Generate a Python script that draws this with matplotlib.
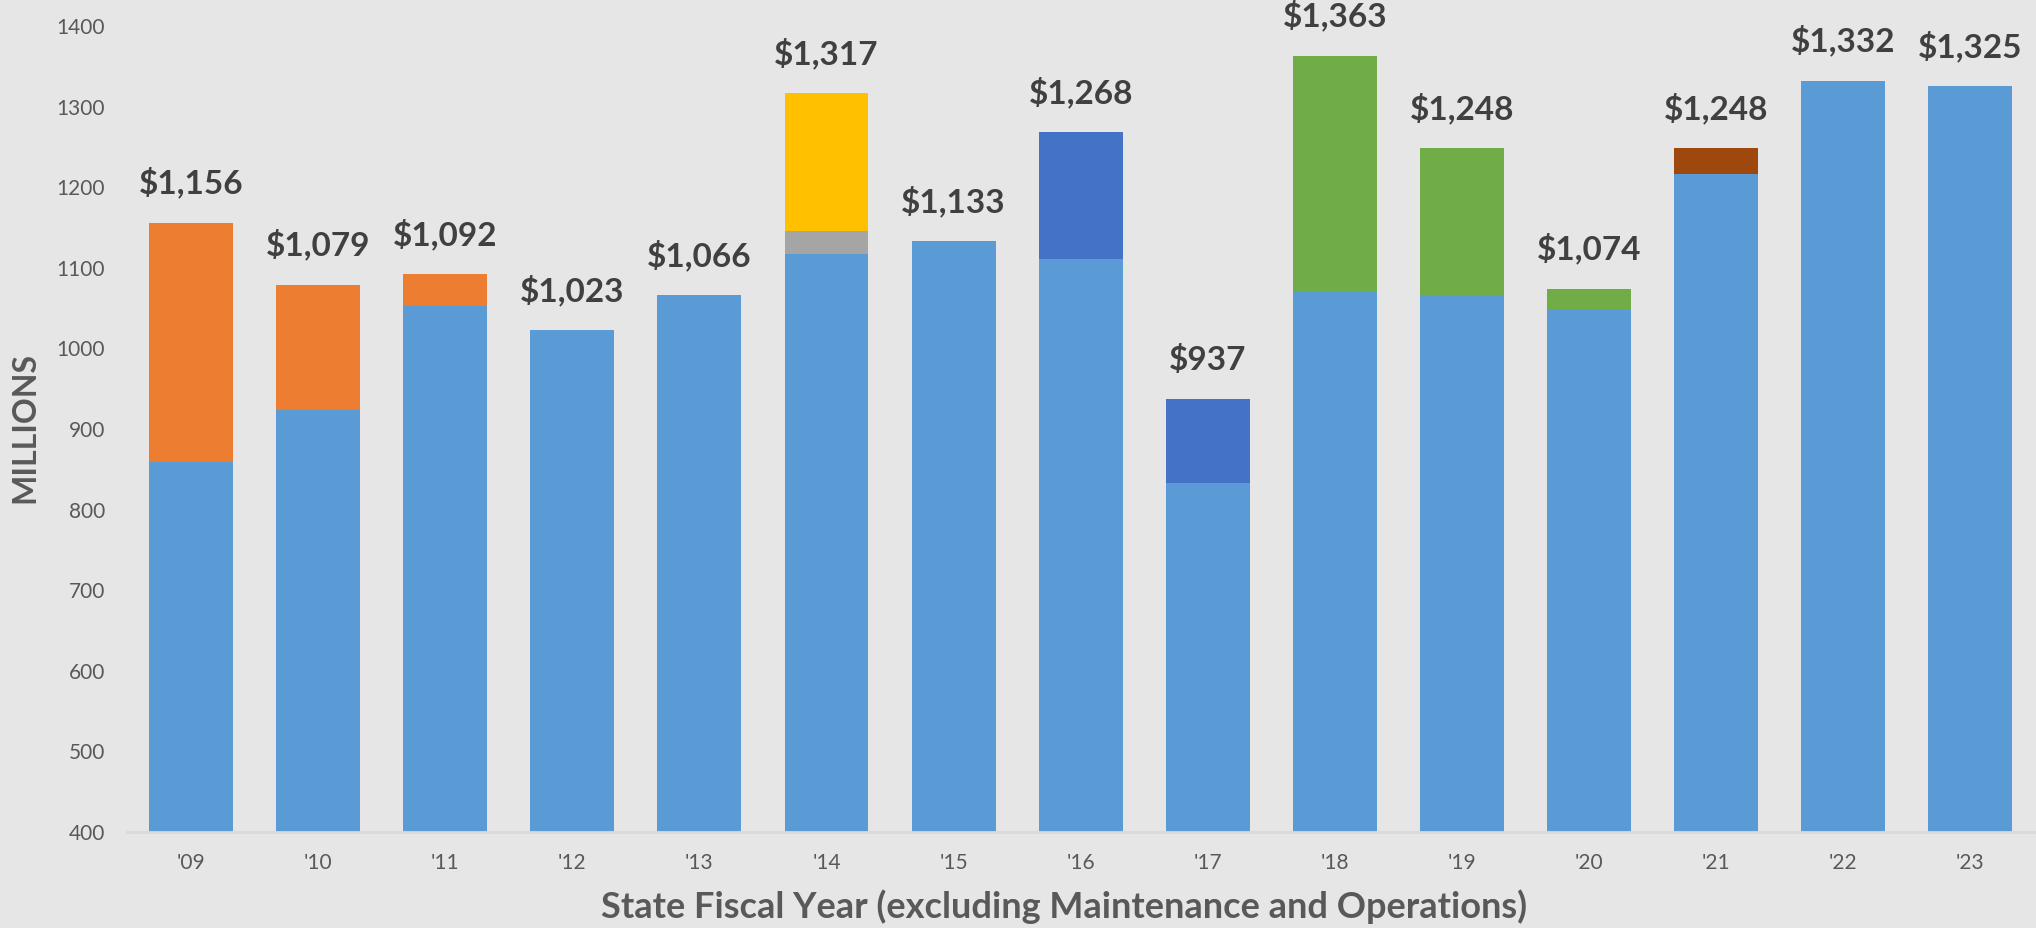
import numpy as np
import matplotlib.pyplot as plt

# fiscal years and segment values (millions)
years = ["'09", "'10", "'11", "'12", "'13", "'14", "'15", "'16",
         "'17", "'18", "'19", "'20", "'21", "'22", "'23"]
base = [859, 924, 1053, 1023, 1066, 1117, 1133, 1111, 833, 1070, 1066, 1049, 1216, 1332, 1325]
orange = [297, 155, 39, 0, 0, 0, 0, 0, 0, 0, 0, 0, 0, 0, 0]
gray = [0, 0, 0, 0, 0, 29, 0, 0, 0, 0, 0, 0, 0, 0, 0]
yellow = [0, 0, 0, 0, 0, 171, 0, 0, 0, 0, 0, 0, 0, 0, 0]
darkblue = [0, 0, 0, 0, 0, 0, 0, 157, 104, 0, 0, 0, 0, 0, 0]
green = [0, 0, 0, 0, 0, 0, 0, 0, 0, 293, 182, 25, 0, 0, 0]
brown = [0, 0, 0, 0, 0, 0, 0, 0, 0, 0, 0, 0, 32, 0, 0]
totals = [1156, 1079, 1092, 1023, 1066, 1317, 1133, 1268, 937, 1363, 1248, 1074, 1248, 1332, 1325]

bg = '#E7E6E6'
plt.rcParams['font.family'] = ['Lato', 'DejaVu Sans']

fig = plt.figure(figsize=(20.36, 9.2805), dpi=100, facecolor=bg)
ax = fig.add_axes([0.0626, 0.1034, 0.9364, 0.8686])
ax.set_facecolor(bg)

x = np.arange(len(years))
w = 0.66
bottom = np.zeros(len(years))
for vals, col in [(base, '#5B9BD5'), (orange, '#ED7D31'), (gray, '#A5A5A5'),
                  (yellow, '#FFC000'), (darkblue, '#4472C4'), (green, '#70AD47'),
                  (brown, '#9E480E')]:
    vals = np.array(vals, dtype=float)
    ax.bar(x, vals, w, bottom=bottom, color=col, linewidth=0, zorder=2)
    bottom += vals

for xi, top, t in zip(x, bottom, totals):
    ax.annotate('${:,}'.format(t), (xi, top), xytext=(0, 29), textcoords='offset pixels',
                ha='center', va='baseline', fontsize=24, fontweight='bold', color='#404040')

ax.set_ylim(400, 1400)
ax.set_xlim(-0.5, len(years) - 0.5)
ax.set_yticks(np.arange(400, 1401, 100))
ax.set_xticks(x)
ax.set_xticklabels(years)
ax.tick_params(axis='both', length=0, labelsize=15, labelcolor='#595959')
ax.tick_params(axis='y', pad=16)
ax.tick_params(axis='x', pad=15)
for s in ['top', 'right', 'left']:
    ax.spines[s].set_visible(False)
ax.spines['bottom'].set_color('#D9D9D9')
ax.spines['bottom'].set_linewidth(2)

fig.text(0.0123, 0.539, 'MILLIONS', rotation=90, ha='center', va='center',
         fontsize=23, fontweight='bold', color='#595959')
fig.text(0.5225, 0.023, 'State Fiscal Year (excluding Maintenance and Operations)',
         ha='center', va='center', fontsize=26, fontweight='bold', color='#595959')

fig.savefig('out.png', dpi=100, facecolor=bg)
